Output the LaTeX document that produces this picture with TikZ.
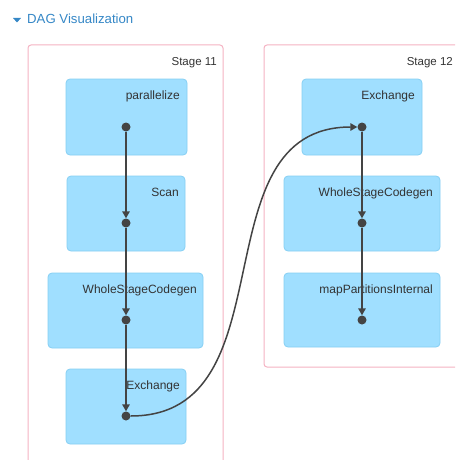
\documentclass[tikz,border=0pt]{standalone}
\usepackage{fontspec}
\setmainfont{Liberation Sans}
\usetikzlibrary{arrows.meta}
\definecolor{nodefill}{HTML}{A0DFFF}
\definecolor{nodeline}{HTML}{86CFF3}
\definecolor{stageline}{HTML}{F5B3C3}
\definecolor{edgecol}{HTML}{444444}
\definecolor{txtcol}{HTML}{333333}
\definecolor{titlecol}{HTML}{3587C6}
\begin{document}
\begin{tikzpicture}[x=1pt,y=-1pt,
  stagebox/.style={draw=stageline,line width=1pt,fill=white,rounded corners=3pt},
  opbox/.style={draw=nodeline,line width=0.8pt,fill=nodefill,rounded corners=4pt},
  oplabel/.style={anchor=base east,inner sep=0pt,text=txtcol,font=\fontsize{12}{14}\selectfont},
  stagelabel/.style={anchor=base east,inner sep=0pt,text=txtcol,font=\fontsize{11.5}{14}\selectfont},
  dot/.style={circle,fill=edgecol,inner sep=0pt,minimum size=9pt},
  edge/.style={draw=edgecol,line width=1.5pt,-{Triangle[length=7pt,width=7.5pt]}}
]
\useasboundingbox (0,0) rectangle (455,460);
\clip (0,0) rectangle (455,460);
% title
\fill[titlecol] (13,18) -- (21,18) -- (17,22.5) -- cycle;
\node[anchor=base west,inner sep=0pt,text=titlecol,font=\fontsize{13.2}{15}\selectfont] (title) at (27,24) {DAG Visualization};
% stages
\draw[stagebox] (28,45) rectangle (223,480);
\node[stagelabel] (s11) at (217,65) {Stage 11};
\draw[stagebox] (264,45) rectangle (480,367);
\node[stagelabel] (s12) at (453,65) {Stage 12};
% stage 11 operators
\draw[opbox] (66,79) rectangle (187,155);
\node[oplabel] (l1) at (180,99) {parallelize};
\draw[opbox] (67,176) rectangle (185,251);
\node[oplabel] (l2) at (179,196) {Scan};
\draw[opbox] (48,273) rectangle (203,348);
\node[oplabel] (l3) at (197,293) {WholeStageCodegen};
\draw[opbox] (66,369) rectangle (186,444);
\node[oplabel] (l4) at (180,389) {Exchange};
% stage 12 operators
\draw[opbox] (302,79) rectangle (422,155);
\node[oplabel] (r1) at (415,99) {Exchange};
\draw[opbox] (284,176) rectangle (440,251);
\node[oplabel] (r2) at (433,196) {WholeStageCodegen};
\draw[opbox] (284,273) rectangle (440,347);
\node[oplabel] (r3) at (433,293) {mapPartitionsInternal};
% dots
\node[dot] (a1) at (126,127) {};
\node[dot] (a2) at (126,223) {};
\node[dot] (a3) at (126,320) {};
\node[dot] (a4) at (126,416) {};
\node[dot] (b1) at (362,127) {};
\node[dot] (b2) at (362,223) {};
\node[dot] (b3) at (362,320) {};
% edges
\draw[edge] (a1) -- (a2);
\draw[edge] (a2) -- (a3);
\draw[edge] (a3) -- (a4);
\draw[edge] (a4.east) .. controls (292,416) and (196,127) .. (b1.west);
\draw[edge] (b1) -- (b2);
\draw[edge] (b2) -- (b3);
\end{tikzpicture}
\end{document}
